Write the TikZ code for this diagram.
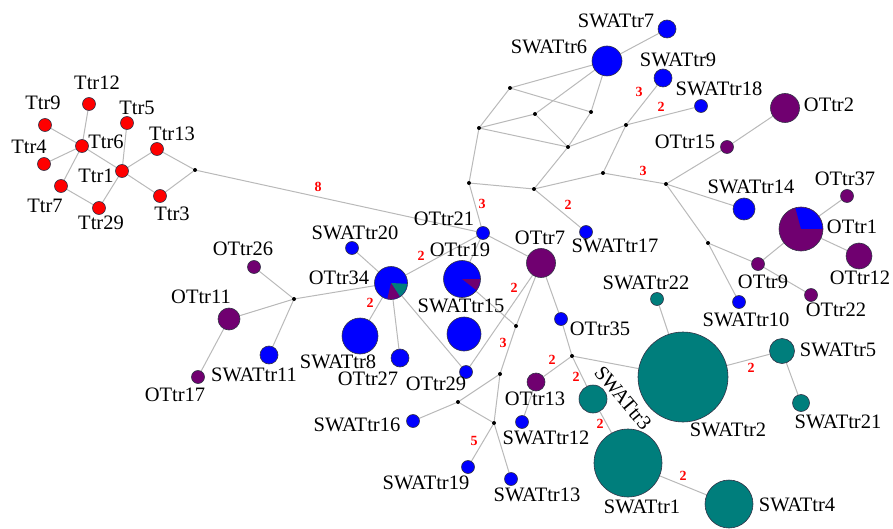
\documentclass[tikz,border=0pt]{standalone}
\usepackage{fontspec}
\setmainfont{Liberation Serif}
\usepackage{xcolor}
\usetikzlibrary{backgrounds}
\definecolor{hapred}{RGB}{255, 0, 0}
\definecolor{hapblue}{RGB}{0, 0, 255}
\definecolor{happurple}{RGB}{112, 0, 112}
\definecolor{hapteal}{RGB}{0, 126, 124}
\definecolor{gris}{RGB}{185, 185, 185}
\definecolor{borde}{RGB}{50, 50, 70}

\begin{document}
\begin{tikzpicture}[x=1pt, y=-1pt,
	hap/.style={circle, draw=borde, line width=0.6pt, inner sep=0pt, minimum size=13},
	ttr/.style={hap, fill=hapred},
	swat/.style={hap, fill=hapblue},
	otr/.style={hap, fill=happurple},
	verde/.style={hap, fill=hapteal},
	med/.style={circle, fill=black, inner sep=0pt, minimum size=4},
	lab/.style={inner sep=0pt, font=\fontsize{20.5}{22}\selectfont},
	num/.style={inner sep=0pt, text=red, font=\fontsize{14}{14}\selectfont\bfseries},
	enlace/.style={draw=gris, line width=1pt}]
		\useasboundingbox (0,0) rectangle (893,529);
		
		% Grupo Ttr
		\node[ttr] (Ttr12) at (89,104) {};
		\node[ttr] (Ttr9) at (45,125) {};
		\node[ttr] (Ttr5) at (127,123) {};
		\node[ttr] (Ttr6) at (82,146) {};
		\node[ttr] (Ttr13) at (157,149) {};
		\node[ttr] (Ttr4) at (44,164) {};
		\node[ttr] (Ttr1) at (122,171) {};
		\node[ttr] (Ttr7) at (61,186) {};
		\node[ttr] (Ttr3) at (160,196) {};
		\node[ttr] (Ttr29) at (99,208) {};
		\node[med] (m1) at (195,170) {};
		
		% Parte superior
		\node[swat, minimum size=18] (SWATtr7) at (667,29) {};
		\node[swat, minimum size=30] (SWATtr6) at (607,61) {};
		\node[swat, minimum size=18] (SWATtr9) at (663,78) {};
		\node[swat] (SWATtr18) at (701,106) {};
		\node[otr] (OTtr15) at (727,147) {};
		\node[otr, minimum size=29] (OTtr2) at (785,108) {};
		\node[swat, minimum size=22] (SWATtr14) at (744,209) {};
		\node[otr] (OTtr37) at (847,196) {};
		\node[otr, minimum size=44] (OTtr1) at (801,229) {};
		\node[otr, minimum size=26] (OTtr12) at (859,256) {};
		\node[otr] (OTtr9) at (758,264) {};
		\node[otr] (OTtr22) at (811,295) {};
		\node[swat] (SWATtr10) at (739,302) {};
		\node[med] (ma) at (510,88) {};
		\node[med] (mb) at (535,114) {};
		\node[med] (mc) at (591,112) {};
		\node[med] (md) at (479,128) {};
		\node[med] (me) at (568,147) {};
		\node[med] (mf) at (626,125) {};
		\node[med] (mg) at (469,183) {};
		\node[med] (mh) at (534,189) {};
		\node[med] (mi) at (603,173) {};
		\node[med] (mj) at (666,184) {};
		\node[med] (mk) at (708,243) {};
		
		% Centro
		\node[swat] (OTtr21) at (483,233) {};
		\node[swat] (SWATtr17) at (586,232) {};
		\node[otr, minimum size=29] (OTtr7) at (541,263) {};
		\node[swat, minimum size=37] (OTtr19) at (462,279) {};
		\node[swat, minimum size=34] (SWATtr15) at (464,334) {};
		\node[swat] (SWATtr20) at (352,248) {};
		\node[otr] (OTtr26) at (254,267) {};
		\node[swat, minimum size=33] (OTtr34) at (391,283) {};
		\node[med] (m2) at (294,299) {};
		\node[otr, minimum size=22] (OTtr11) at (229,319) {};
		\node[swat, minimum size=18] (SWATtr11) at (269,355) {};
		\node[swat, minimum size=36] (SWATtr8) at (360,336) {};
		\node[swat, minimum size=18] (OTtr27) at (400,358) {};
		\node[otr] (OTtr17) at (198,377) {};
		\node[swat] (OTtr29) at (466,372) {};
		\node[swat] (OTtr35) at (561,319) {};
		\node[med] (n1) at (516,326) {};
		\node[med] (n2) at (572,356) {};
		\node[med] (n3) at (500,374) {};
		\node[med] (n4) at (458,402) {};
		\node[med] (n5) at (494,423) {};
		\node[otr, minimum size=18] (OTtr13) at (536,382) {};
		\node[swat] (SWATtr16) at (413,421) {};
		\node[swat] (SWATtr12) at (522,422) {};
		\node[swat] (SWATtr19) at (468,467) {};
		\node[swat] (SWATtr13) at (511,479) {};
		
		% Grupo verde
		\node[verde, minimum size=28] (SWATtr3) at (593,399) {};
		\node[verde] (SWATtr22) at (657,299) {};
		\node[verde, minimum size=90] (SWATtr2) at (683,377) {};
		\node[verde, minimum size=25] (SWATtr5) at (782,351) {};
		\node[verde, minimum size=17] (SWATtr21) at (801,403) {};
		\node[verde, minimum size=68] (SWATtr1) at (628,463) {};
		\node[verde, minimum size=48] (SWATtr4) at (729,504) {};
		
		% Sectores de los circulos mixtos
		\fill[hapblue] (OTtr1.center) -- ++(0:21.4) arc[start angle=0, end angle=-105, radius=21.4] -- cycle;
		\fill[hapteal] (OTtr34.center) -- ++(3:16) arc[start angle=3, end angle=57, radius=16] -- cycle;
		\fill[happurple] (OTtr34.center) -- ++(57:16) arc[start angle=57, end angle=103, radius=16] -- cycle;
		\fill[happurple] (OTtr19.center) -- ++(0:18) arc[start angle=0, end angle=38, radius=18] -- cycle;
		
		% Enlaces
		\begin{scope}[on background layer]
			\draw[enlace] (Ttr9) -- (Ttr6) (Ttr4) -- (Ttr6) (Ttr12) -- (Ttr6) (Ttr6) -- (Ttr7);
			\draw[enlace] (Ttr6) -- (Ttr1) (Ttr5) -- (Ttr1) (Ttr1) -- (Ttr13) (Ttr1) -- (Ttr3);
			\draw[enlace] (Ttr1) -- (Ttr29) (Ttr7) -- (Ttr29) (Ttr13) -- (m1) (Ttr3) -- (m1);
			\draw[enlace] (m1) -- (OTtr21);
			\draw[enlace] (SWATtr7) -- (SWATtr6) (SWATtr6) -- (ma) (SWATtr6) -- (mb) (SWATtr6) -- (mc);
			\draw[enlace] (ma) -- (md) (ma) -- (mc) (md) -- (mb) (md) -- (me) (mb) -- (me) (mc) -- (me);
			\draw[enlace] (me) -- (mf) (mf) -- (SWATtr18) (mf) -- (SWATtr9) (mf) -- (mi);
			\draw[enlace] (md) -- (mg) (mg) -- (mh) (mh) -- (me) (mh) -- (mi) (mi) -- (mj);
			\draw[enlace] (mj) -- (OTtr15) (OTtr15) -- (OTtr2) (mj) -- (SWATtr14) (mj) -- (mk);
			\draw[enlace] (mk) -- (OTtr9) (OTtr9) -- (OTtr22) (mk) -- (SWATtr10);
			\draw[enlace] (OTtr9) -- (OTtr1) (OTtr1) -- (OTtr37) (OTtr1) -- (OTtr12);
			\draw[enlace] (mg) -- (OTtr21) (mh) -- (SWATtr17);
			\draw[enlace] (OTtr21) -- (OTtr19) (OTtr21) -- (OTtr7) (OTtr21) -- (OTtr34);
			\draw[enlace] (OTtr34) -- (SWATtr20) (OTtr34) -- (m2) (m2) -- (OTtr26) (m2) -- (OTtr11);
			\draw[enlace] (m2) -- (SWATtr11) (OTtr11) -- (OTtr17);
			\draw[enlace] (OTtr34) -- (SWATtr8) (OTtr34) -- (OTtr27) (OTtr34) -- (OTtr29);
			\draw[enlace] (OTtr7) -- (OTtr29) (OTtr19) -- (n1) (OTtr7) -- (n1) (n1) -- (n3);
			\draw[enlace] (n3) -- (n4) (n3) -- (n5) (n4) -- (SWATtr16) (n4) -- (n5);
			\draw[enlace] (n5) -- (SWATtr19) (n5) -- (SWATtr13);
			\draw[enlace] (OTtr7) -- (OTtr35) (OTtr35) -- (n2) (n2) -- (OTtr13) (n2) -- (SWATtr3);
			\draw[enlace] (n2) -- (SWATtr2) (OTtr13) -- (SWATtr12);
			\draw[enlace] (SWATtr3) -- (SWATtr1) (SWATtr1) -- (SWATtr4);
			\draw[enlace] (SWATtr22) -- (SWATtr2) (SWATtr2) -- (SWATtr5) (SWATtr5) -- (SWATtr21);
		\end{scope}
		
		% Pasos mutacionales
		\node[num] (p1) at (318,187) {8};
		\node[num] (p2) at (482,204) {3};
		\node[num] (p3) at (568,205) {2};
		\node[num] (p4) at (639,92) {3};
		\node[num] (p5) at (661,107) {2};
		\node[num] (p6) at (643,171) {3};
		\node[num] (p7) at (421,256) {2};
		\node[num] (p8) at (370,303) {2};
		\node[num] (p9) at (514,288) {2};
		\node[num] (p10) at (503,343) {3};
		\node[num] (p11) at (474,441) {5};
		\node[num] (p12) at (552,360) {2};
		\node[num] (p13) at (576,377) {2};
		\node[num] (p14) at (600,424) {2};
		\node[num] (p15) at (751,368) {2};
		\node[num] (p16) at (683,476) {2};
		
		% Etiquetas
		\node[lab] (l-Ttr12) at (97,83) {Ttr12};
		\node[lab] (l-Ttr9) at (43,103) {Ttr9};
		\node[lab] (l-Ttr5) at (137,108) {Ttr5};
		\node[lab] (l-Ttr6) at (106,142) {Ttr6};
		\node[lab] (l-Ttr13) at (172,134) {Ttr13};
		\node[lab] (l-Ttr4) at (29,147) {Ttr4};
		\node[lab] (l-Ttr1) at (96,176) {Ttr1};
		\node[lab] (l-Ttr7) at (45,206) {Ttr7};
		\node[lab] (l-Ttr3) at (172,214) {Ttr3};
		\node[lab] (l-Ttr29) at (101,223) {Ttr29};
		\node[lab] (l-SWATtr7) at (616,21) {SWATtr7};
		\node[lab] (l-SWATtr6) at (549,47) {SWATtr6};
		\node[lab] (l-SWATtr9) at (678,60) {SWATtr9};
		\node[lab] (l-SWATtr18) at (719,89) {SWATtr18};
		\node[lab] (l-OTtr15) at (685,142) {OTtr15};
		\node[lab] (l-OTtr2) at (829,105) {OTtr2};
		\node[lab] (l-SWATtr14) at (751,187) {SWATtr14};
		\node[lab] (l-OTtr37) at (845,179) {OTtr37};
		\node[lab] (l-OTtr1) at (852,227) {OTtr1};
		\node[lab] (l-OTtr12) at (860,278) {OTtr12};
		\node[lab] (l-OTtr9) at (763,282) {OTtr9};
		\node[lab] (l-OTtr22) at (836,310) {OTtr22};
		\node[lab] (l-SWATtr10) at (746,320) {SWATtr10};
		\node[lab] (l-OTtr21) at (444,219) {OTtr21};
		\node[lab] (l-SWATtr17) at (615,246) {SWATtr17};
		\node[lab] (l-OTtr19) at (460,250) {OTtr19};
		\node[lab] (l-OTtr7) at (540,238) {OTtr7};
		\node[lab] (l-SWATtr20) at (355,233) {SWATtr20};
		\node[lab] (l-OTtr26) at (243,249) {OTtr26};
		\node[lab] (l-OTtr34) at (339,278) {OTtr34};
		\node[lab] (l-OTtr11) at (201,297) {OTtr11};
		\node[lab] (l-SWATtr11) at (254,375) {SWATtr11};
		\node[lab] (l-OTtr17) at (175,395) {OTtr17};
		\node[lab] (l-SWATtr8) at (338,362) {SWATtr8};
		\node[lab] (l-OTtr27) at (368,379) {OTtr27};
		\node[lab] (l-OTtr29) at (436,384) {OTtr29};
		\node[lab] (l-SWATtr15) at (461,306) {SWATtr15};
		\node[lab] (l-OTtr35) at (600,329) {OTtr35};
		\node[lab] (l-OTtr13) at (535,399) {OTtr13};
		\node[lab] (l-SWATtr16) at (357,425) {SWATtr16};
		\node[lab] (l-SWATtr12) at (546,438) {SWATtr12};
		\node[lab] (l-SWATtr19) at (426,483) {SWATtr19};
		\node[lab] (l-SWATtr13) at (537,495) {SWATtr13};
		\node[lab, rotate=-50] (l-SWATtr3) at (623,398) {SWATtr3};
		\node[lab] (l-SWATtr22) at (646,283) {SWATtr22};
		\node[lab] (l-SWATtr5) at (838,350) {SWATtr5};
		\node[lab] (l-SWATtr21) at (838,422) {SWATtr21};
		\node[lab] (l-SWATtr2) at (728,430) {SWATtr2};
		\node[lab] (l-SWATtr1) at (642,507) {SWATtr1};
		\node[lab] (l-SWATtr4) at (797,505) {SWATtr4};
	\end{tikzpicture}
\end{document}
